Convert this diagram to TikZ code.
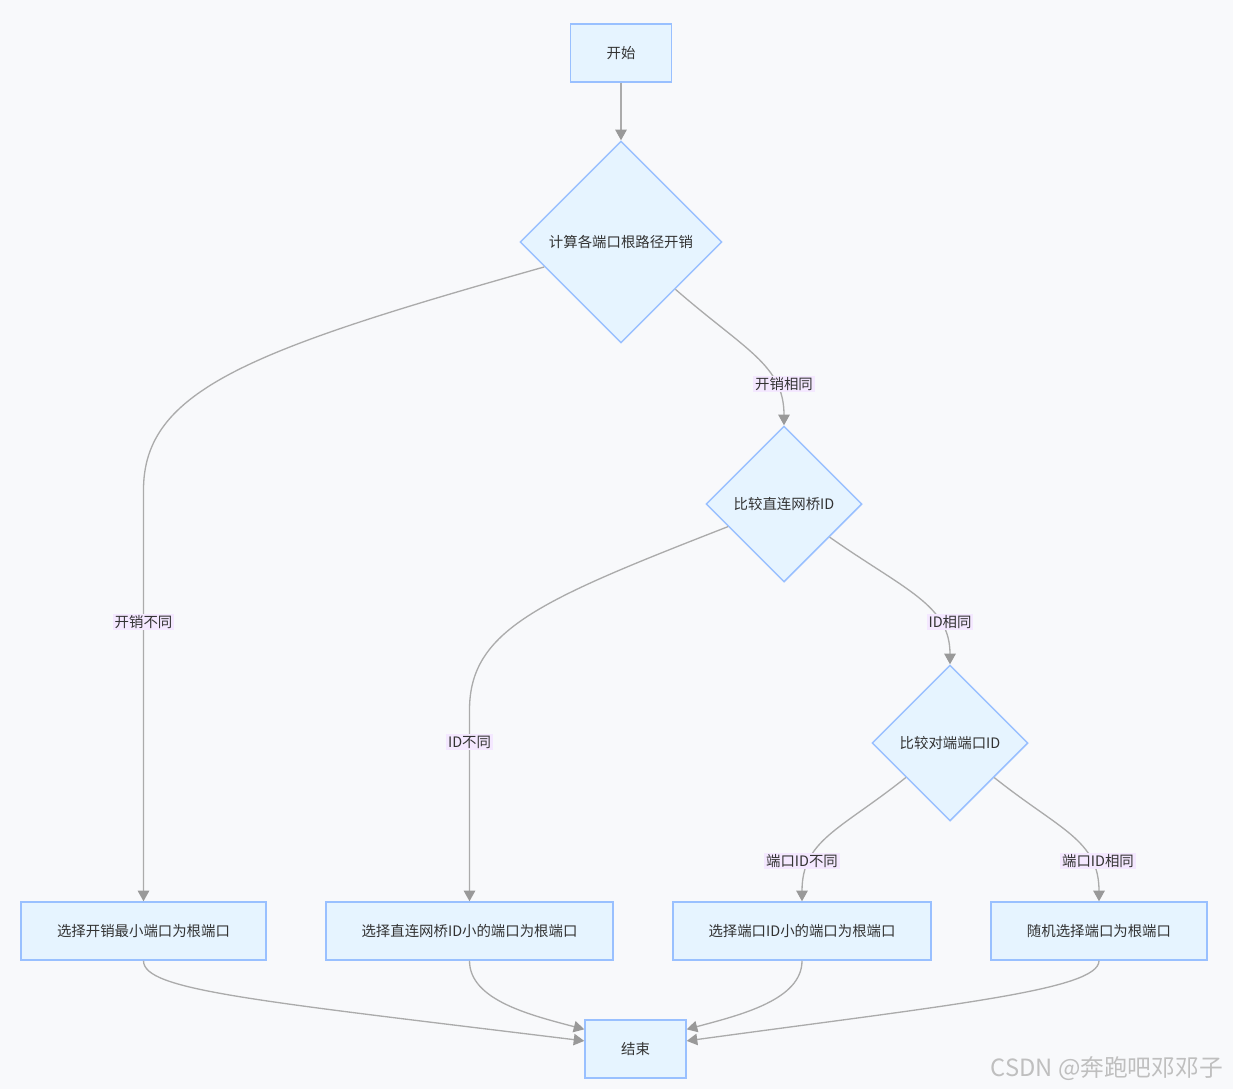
\documentclass[tikz,border=0pt]{standalone}
\usepackage{fontspec}
\setmainfont{Noto Sans CJK SC}
\usetikzlibrary{shapes.geometric,arrows.meta}

\definecolor{fond}{HTML}{F8F9FB}
\definecolor{bleu}{HTML}{E6F4FF}
\definecolor{bord}{HTML}{99C0FF}
\definecolor{lien}{HTML}{ABABAB}
\definecolor{etiq}{HTML}{F4E8FF}

\tikzset{
	boite/.style={draw=bord, fill=bleu, line width=0.85pt, minimum height=1.16cm, inner sep=0pt, font=\fontsize{8.2pt}{10pt}\selectfont, text=black!80},
	losange/.style={diamond, aspect=1, draw=bord, fill=bleu, line width=0.85pt, inner sep=0pt, font=\fontsize{8.2pt}{10pt}\selectfont, text=black!80},
	fleche/.style={draw=lien, line width=0.75pt, -{Triangle[length=6pt,width=6.5pt,color=gray!80]}},
	etiquette/.style={fill=etiq, inner sep=1pt, font=\fontsize{8.2pt}{10pt}\selectfont, text=black!80}
}

\begin{document}
\begin{tikzpicture}[x=0.02cm, y=0.02cm]
		% Fond
		\fill[fond] (0,0) rectangle (1233,-1089);

		% Noeuds
		\node[boite, minimum width=2.02cm] at (621,-53) (s) {开始};
		\node[losange, minimum size=4.04cm] at (621,-242) (d1) {计算各端口根路径开销};
		\node[losange, minimum size=3.12cm] at (784,-504) (d2) {比较直连网桥ID};
		\node[losange, minimum size=3.12cm] at (950,-743) (d3) {比较对端端口ID};
		\node[boite, minimum width=4.9cm] at (143.5,-931) (a) {选择开销最小端口为根端口};
		\node[boite, minimum width=5.74cm] at (469.5,-931) (b) {选择直连网桥ID小的端口为根端口};
		\node[boite, minimum width=5.16cm] at (802,-931) (c) {选择端口ID小的端口为根端口};
		\node[boite, minimum width=4.32cm] at (1099,-931) (d) {随机选择端口为根端口};
		\node[boite, minimum width=2.02cm] at (635.5,-1049) (e) {结束};

		% Liens
		\draw[fleche] (s) -- (d1);
		\draw[fleche] (d1.198) .. controls (250,-350) and (143.5,-390) .. (143.5,-490) -- (a);
		\draw[fleche] (d1.319) .. controls (745,-350) and (784,-365) .. (d2.north);
		\draw[fleche] (d2.202) .. controls (540,-600) and (469.5,-630) .. (469.5,-710) -- (b);
		\draw[fleche] (d2.324) .. controls (905,-590) and (950,-605) .. (d3.north);
		\draw[fleche] (d3.218) .. controls (840,-830) and (802,-840) .. (c.north);
		\draw[fleche] (d3.322) .. controls (1060,-830) and (1099,-840) .. (d.north);
		\draw[fleche] (a.south) .. controls (143.5,-990) and (250,-1000) .. (e.171);
		\draw[fleche] (b.south) .. controls (469.5,-1000) and (530,-1015) .. (e.159);
		\draw[fleche] (c.south) .. controls (802,-1000) and (740,-1015) .. (e.21);
		\draw[fleche] (d.south) .. controls (1099,-990) and (950,-1005) .. (e.9);

		% Etiquettes
		\node[etiquette] at (143.5,-622) (l1) {开销不同};
		\node[etiquette] at (784,-384) (l2) {开销相同};
		\node[etiquette] at (469.5,-742) (l3) {ID不同};
		\node[etiquette] at (950,-622) (l4) {ID相同};
		\node[etiquette] at (802,-861) (l5) {端口ID不同};
		\node[etiquette] at (1098,-861) (l6) {端口ID相同};

		% Filigrane
		\node[anchor=east, text=gray!50, font=\fontsize{13.5pt}{15pt}\selectfont] at (1229,-1069) (w) {CSDN @奔跑吧邓邓子};
\end{tikzpicture}
\end{document}
